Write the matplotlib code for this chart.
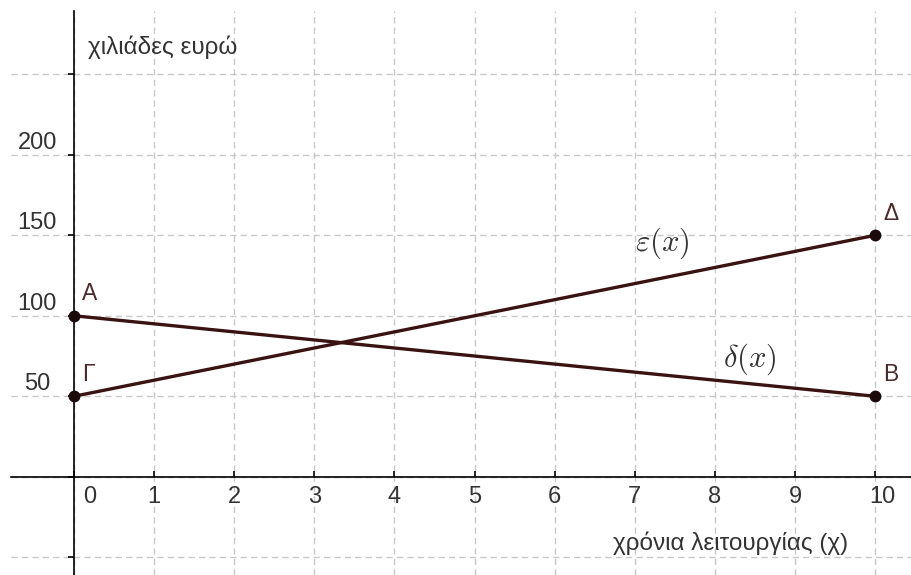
import matplotlib
matplotlib.use("Agg")
import matplotlib.pyplot as plt

# cost (thousand euros) over years of operation
years = [0, 10]
delta_vals = [100, 50]      # δ(x): A -> B
epsilon_vals = [50, 150]    # ε(x): Γ -> Δ
x_ticks = list(range(0, 11))
y_grid = [-50, 0, 50, 100, 150, 200, 250]
y_labels = [50, 100, 150, 200]

plt.rcParams['font.family'] = ['Liberation Sans Narrow', 'Liberation Sans', 'DejaVu Sans']
plt.rcParams['mathtext.fontset'] = 'cm'

line_col = '#3a1212'
text_col = '#333333'
pt_text = '#4a2a2a'

fig = plt.figure(figsize=(9.12, 5.75), dpi=100)
ax = fig.add_axes([11 / 912, 0, 901 / 912, 564 / 575])
ax.set_xlim(-0.787, 10.46)
ax.set_ylim(-61, 289.3)

# axes through the origin
for s in ('top', 'right'):
    ax.spines[s].set_visible(False)
ax.spines['left'].set_position(('data', 0))
ax.spines['bottom'].set_position(('data', 0))
for s in ('left', 'bottom'):
    ax.spines[s].set_linewidth(1.2)
    ax.spines[s].set_zorder(3)

ax.set_xticks(x_ticks)
ax.set_yticks(y_grid)
ax.tick_params(axis='x', direction='in', length=4, width=1.2,
               labelbottom=False)
ax.tick_params(axis='y', direction='out', length=4, width=1.2,
               labelleft=False)
ax.grid(True, linestyle=(0, (4.5, 3)), color='#c8c8c8', linewidth=1)
ax.set_axisbelow(True)

# tick labels
for xv in x_ticks:
    xpos = xv + 0.19 if xv == 0 else xv + (0.09 if xv == 10 else 0)
    ax.text(xpos, -12.4, str(xv), ha='center', va='center',
            fontsize=17, color=text_col)
for yv in y_labels:
    ax.text(-0.46, yv + 7.5, str(yv), ha='center', va='center',
            fontsize=17, color=text_col)

# axis titles
ax.text(0.18, 267, 'χιλιάδες ευρώ', ha='left', va='center',
        fontsize=17.5, color=text_col)
ax.text(6.73, -41.5, 'χρόνια λειτουργίας (χ)', ha='left', va='center',
        fontsize=17.5, color=text_col)

# the two cost lines
ax.plot(years, delta_vals, color=line_col, linewidth=2.4, zorder=4)
ax.plot(years, epsilon_vals, color=line_col, linewidth=2.4, zorder=4)
ax.plot(years, delta_vals, 'o', color='#1a0a0a', markersize=7.5, zorder=5)
ax.plot(years, epsilon_vals, 'o', color='#1a0a0a', markersize=7.5, zorder=5)

names = [('A', years[0], delta_vals[0]), ('B', years[1], delta_vals[1]),
         ('Γ', years[0], epsilon_vals[0]), ('Δ', years[1], epsilon_vals[1])]
for name, xv, yv in names:
    ax.annotate(name, (xv, yv), xytext=(6, 7.5), textcoords='offset points',
                ha='left', va='bottom', fontsize=16.5, color=pt_text)

ax.text(7.34, 145, r'$\varepsilon(x)$', ha='center', va='center',
        fontsize=22, color=text_col)
ax.text(8.43, 73, r'$\delta(x)$', ha='center', va='center',
        fontsize=22, color=text_col)

fig.savefig('out.png', dpi=100)
